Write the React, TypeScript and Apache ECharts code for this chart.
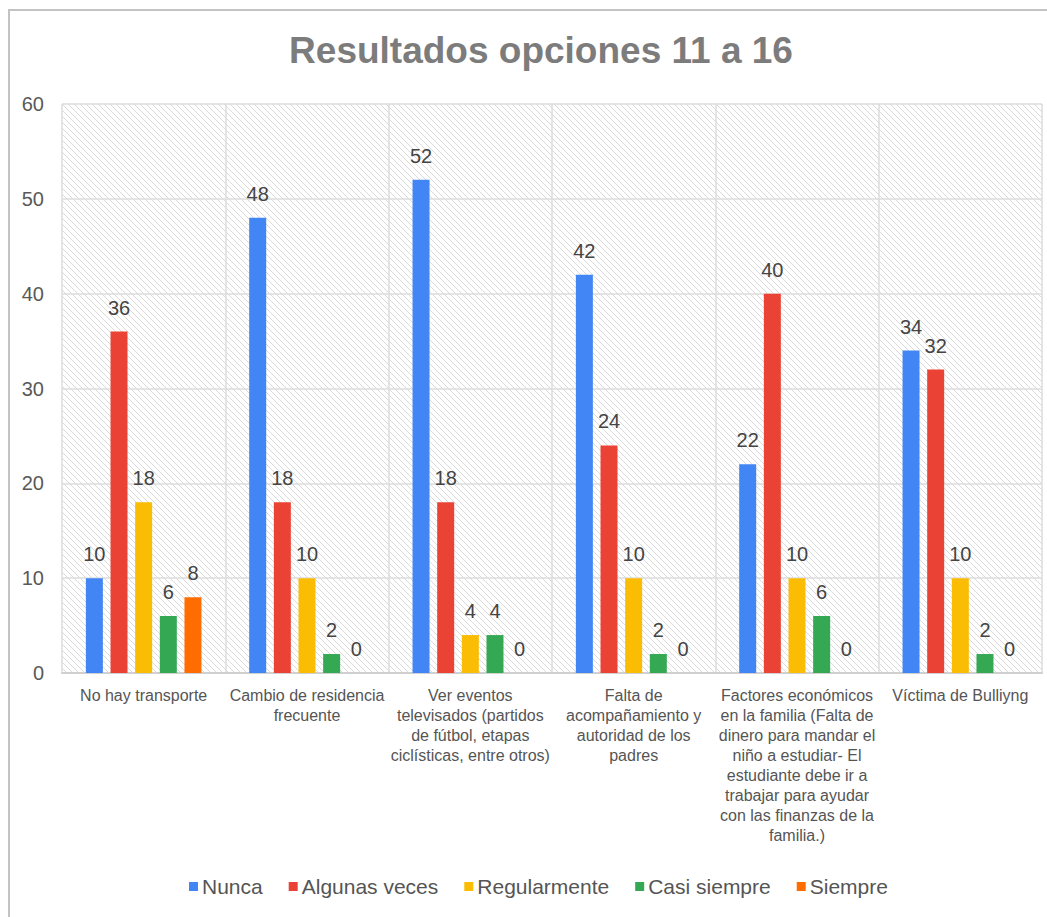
import React, { useEffect, useRef } from "react";
import * as echarts from "echarts";

const categories = [
  "No hay transporte",
  "Cambio de residencia\nfrecuente",
  "Ver eventos\ntelevisados (partidos\nde fútbol, etapas\nciclísticas, entre otros)",
  "Falta de\nacompañamiento y\nautoridad de los\npadres",
  "Factores económicos\nen la familia (Falta de\ndinero para mandar el\nniño a estudiar- El\nestudiante debe ir a\ntrabajar para ayudar\ncon las finanzas de la\nfamilia.)",
  "Víctima de Bulliyng",
];

const seriesNames = ["Nunca", "Algunas veces", "Regularmente", "Casi siempre", "Siempre"];
const nunca = [10, 48, 52, 42, 22, 34];
const algunasVeces = [36, 18, 18, 24, 40, 32];
const regularmente = [18, 10, 4, 10, 10, 10];
const casiSiempre = [6, 2, 4, 2, 6, 2];
const siempre = [8, 0, 0, 0, 0, 0];
const seriesValues = [nunca, algunasVeces, regularmente, casiSiempre, siempre];
const colors = ["#4285F4", "#EA4335", "#FBBC04", "#34A853", "#FF6D01"];

const FONT = "'Liberation Sans', Arial, sans-serif";

function makePattern() {
  const s = 6;
  const c = document.createElement("canvas");
  c.width = s;
  c.height = s;
  const ctx = c.getContext("2d")!;
  ctx.fillStyle = "#ffffff";
  ctx.fillRect(0, 0, s, s);
  ctx.strokeStyle = "#dadada";
  ctx.lineWidth = 1;
  ctx.beginPath();
  ctx.moveTo(-1, -1);
  ctx.lineTo(s + 1, s + 1);
  ctx.moveTo(s - 1, -1);
  ctx.lineTo(s + 1, 1);
  ctx.moveTo(-1, s - 1);
  ctx.lineTo(1, s + 1);
  ctx.stroke();
  return c;
}

export default function App() {
  const ref = useRef<HTMLDivElement>(null);
  useEffect(() => {
    if (!ref.current) return;
    const chart = echarts.init(ref.current, null, { renderer: "svg" });
    const pattern = makePattern();
    chart.setOption({
      animation: false,
      backgroundColor: "#ffffff",
      textStyle: { fontFamily: FONT },
      title: {
        text: "Resultados opciones 11 a 16",
        left: 536,
        textAlign: "center",
        top: 27,
        textStyle: { fontFamily: FONT, fontWeight: "bold", fontSize: 37, color: "#7c7c7c" },
      },
      graphic: [
        {
          type: "rect",
          shape: { x: 9, y: 10, width: 1100, height: 1000 },
          style: { fill: "none", stroke: "#c3c3c3", lineWidth: 2 },
          silent: true,
          z: 100,
        },
      ],
      legend: {
        data: seriesNames,
        left: 184,
        top: 871,
        icon: "rect",
        itemWidth: 9,
        itemHeight: 9,
        itemGap: 26,
        textStyle: { fontFamily: FONT, fontSize: 21, color: "#555555", padding: [0, 0, 0, -1] },
      },
      grid: {
        left: 62,
        top: 104,
        right: 5,
        bottom: 244,
        show: true,
        borderWidth: 0,
        backgroundColor: { image: pattern, repeat: "repeat", imageWidth: 6, imageHeight: 6 },
      },
      xAxis: {
        type: "category",
        data: categories,
        axisTick: { show: false },
        axisLine: { show: true, lineStyle: { color: "#d0d0d0", width: 2 } },
        splitLine: { show: true, lineStyle: { color: "#dcdcdc", width: 1.5 } },
        axisLabel: {
          interval: 0,
          margin: 12,
          fontFamily: FONT,
          fontSize: 16,
          lineHeight: 20,
          color: "#555555",
          align: "center",
        },
      },
      yAxis: {
        type: "value",
        min: 0,
        max: 60,
        interval: 10,
        axisLine: { show: false },
        axisTick: { show: false },
        splitLine: { show: true, lineStyle: { color: "#dcdcdc", width: 1.5 } },
        axisLabel: { margin: 18, fontFamily: FONT, fontSize: 20, color: "#595959" },
      },
      series: seriesValues.map((vals, i) => ({
        name: seriesNames[i],
        type: "bar",
        data: vals,
        barWidth: 17,
        barGap: "45%",
        itemStyle: { color: colors[i] },
        label: {
          show: true,
          position: "top",
          distance: 14,
          fontFamily: FONT,
          fontSize: 20,
          color: "#444444",
        },
      })),
    });
    return () => chart.dispose();
  }, []);
  return (
    <div
      ref={ref}
      style={{ position: "fixed", left: 0, top: 0, width: 1047, height: 917 }}
    />
  );
}
